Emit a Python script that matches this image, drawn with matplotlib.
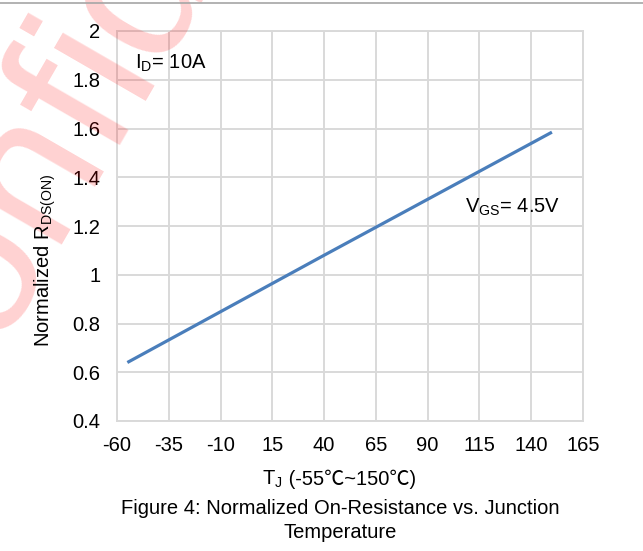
import matplotlib
matplotlib.use("Agg")
import matplotlib.pyplot as plt
from matplotlib.lines import Line2D

# Data
temps = [-55, 40, 150]
rds_norm = [0.64, 1.08, 1.585]
x_ticks = [-60, -35, -10, 15, 40, 65, 90, 115, 140, 165]
y_ticks = [0.4, 0.6, 0.8, 1.0, 1.2, 1.4, 1.6, 1.8, 2.0]
y_tick_labels = ["0.4", "0.6", "0.8", "1", "1.2", "1.4", "1.6", "1.8", "2"]

plt.rcParams['font.family'] = ['Liberation Sans', 'Noto Sans CJK SC', 'DejaVu Sans']
plt.rcParams['mathtext.fontset'] = 'custom'
plt.rcParams['mathtext.rm'] = 'Liberation Sans'
plt.rcParams['mathtext.it'] = 'Liberation Sans'
plt.rcParams['mathtext.bf'] = 'Liberation Sans:bold'

FS = 14.5
W, H = 643, 551
fig = plt.figure(figsize=(W / 100, H / 100), dpi=100)
fig.patch.set_facecolor('white')

# watermark
fig.text(-0.12, 0.15, "Confidential", rotation=60, rotation_mode='anchor',
         ha='left', va='baseline', fontsize=144, color='red', alpha=0.18,
         zorder=0)

ax = fig.add_axes([117 / W, 1 - 421 / H, (583 - 117) / W, (421 - 31) / H])
ax.set_facecolor('none')
grid_c = '#d9d9d9'
ax.set_xlim(-60, 165)
ax.set_ylim(0.4, 2.0)
ax.set_xticks(x_ticks)
ax.set_xticklabels([str(t) for t in x_ticks])
ax.set_yticks(y_ticks)
ax.set_yticklabels(y_tick_labels)
ax.grid(True, color=grid_c, linewidth=1.4)
ax.set_axisbelow(True)
for s in ax.spines.values():
    s.set_color(grid_c)
    s.set_linewidth(1.4)
ax.tick_params(axis='both', length=0, labelsize=FS, colors='black')
ax.tick_params(axis='y', pad=12)
ax.tick_params(axis='x', pad=11)

ax.plot(temps, rds_norm, color='#4a7ebb', linewidth=2.3, solid_capstyle='butt', zorder=3)

ax.text(18 / 466, 1 - 32 / 390, r"$\mathregular{I_D}$= 10A", transform=ax.transAxes,
        ha='left', va='center', fontsize=FS)
ax.text((465 - 117) / 466, 1 - (207 - 31) / 390, r"$\mathregular{V_{GS}}$= 4.5V",
        transform=ax.transAxes, ha='left', va='center', fontsize=FS)

fig.text(45 / W, 1 - 260 / H, r"Normalized R$_{\mathregular{DS(ON)}}$", rotation=90,
         ha='center', va='center', fontsize=FS)

# x-axis label composed of two pieces (mathtext part + plain text with ℃)
yb = 1 - 485 / H
t1 = fig.text(0, yb, r"T$_{\mathregular{J}}$", ha='left', va='baseline', fontsize=FS)
t2 = fig.text(0, yb, " (-55℃~150℃)", ha='left', va='baseline', fontsize=FS)
renderer = fig.canvas.get_renderer()
w1 = t1.get_window_extent(renderer).width
w2 = t2.get_window_extent(renderer).width
x_start = 339 - (w1 + w2) / 2
t1.set_x(x_start / W)
t2.set_x((x_start + w1) / W)

fig.text(340 / W, 1 - 508 / H, "Figure 4: Normalized On-Resistance vs. Junction",
         ha='center', va='center', fontsize=FS)
fig.text(340 / W, 1 - 532 / H, "Temperature",
         ha='center', va='center', fontsize=FS)

fig.add_artist(Line2D([0, 1], [1 - 2.5 / H, 1 - 2.5 / H], transform=fig.transFigure,
                      color='#a6a6a6', linewidth=1.2))

fig.savefig("out.png", dpi=100)
